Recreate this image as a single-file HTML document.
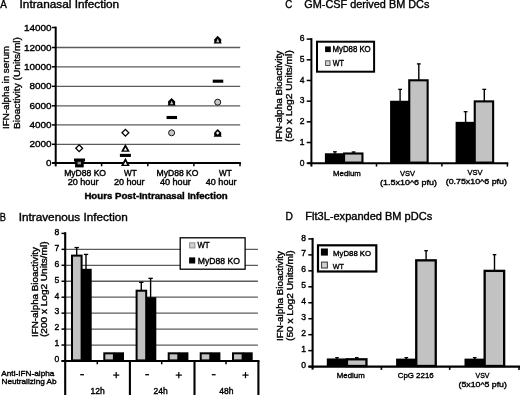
<!DOCTYPE html>
<html><head><meta charset="utf-8"><title>Figure</title>
<style>
html,body{margin:0;padding:0;background:#fff;}
svg{display:block;font-family:"Liberation Sans", sans-serif;filter:grayscale(1);}
</style></head>
<body>
<svg width="520" height="395" viewBox="0 0 520 395">
<rect x="0" y="0" width="520" height="395" fill="#fff"/>
<text x="0.3" y="7.8" font-size="10.2" text-anchor="start" fill="#000" stroke="#000" stroke-width="0.35" textLength="6.6" lengthAdjust="spacingAndGlyphs">A</text>
<text x="19.6" y="7.8" font-size="10.2" text-anchor="start" fill="#000" stroke="#000" stroke-width="0.35" textLength="99.6" lengthAdjust="spacingAndGlyphs">Intranasal Infection</text>
<line x1="55.70" y1="144.30" x2="240.20" y2="144.30" stroke="#5c5c5c" stroke-width="1.3"/>
<line x1="55.70" y1="124.90" x2="240.20" y2="124.90" stroke="#5c5c5c" stroke-width="1.3"/>
<line x1="55.70" y1="105.80" x2="240.20" y2="105.80" stroke="#5c5c5c" stroke-width="1.3"/>
<line x1="55.70" y1="86.30" x2="240.20" y2="86.30" stroke="#5c5c5c" stroke-width="1.3"/>
<line x1="55.70" y1="66.80" x2="240.20" y2="66.80" stroke="#5c5c5c" stroke-width="1.3"/>
<line x1="55.70" y1="47.50" x2="240.20" y2="47.50" stroke="#5c5c5c" stroke-width="1.3"/>
<line x1="55.70" y1="26.60" x2="55.70" y2="166.40" stroke="#000" stroke-width="2"/>
<line x1="52.30" y1="163.10" x2="240.90" y2="163.10" stroke="#000" stroke-width="2"/>
<line x1="52.00" y1="163.10" x2="55.70" y2="163.10" stroke="#000" stroke-width="1.5"/>
<text x="51.5" y="166.1" font-size="9" text-anchor="end" fill="#000" stroke="#000" stroke-width="0.38" textLength="5.5" lengthAdjust="spacingAndGlyphs">0</text>
<line x1="52.00" y1="144.30" x2="55.70" y2="144.30" stroke="#000" stroke-width="1.5"/>
<text x="51.5" y="147.3" font-size="9" text-anchor="end" fill="#000" stroke="#000" stroke-width="0.38" textLength="22.1" lengthAdjust="spacingAndGlyphs">2000</text>
<line x1="52.00" y1="124.90" x2="55.70" y2="124.90" stroke="#000" stroke-width="1.5"/>
<text x="51.5" y="127.9" font-size="9" text-anchor="end" fill="#000" stroke="#000" stroke-width="0.38" textLength="22.1" lengthAdjust="spacingAndGlyphs">4000</text>
<line x1="52.00" y1="105.80" x2="55.70" y2="105.80" stroke="#000" stroke-width="1.5"/>
<text x="51.5" y="108.8" font-size="9" text-anchor="end" fill="#000" stroke="#000" stroke-width="0.38" textLength="22.1" lengthAdjust="spacingAndGlyphs">6000</text>
<line x1="52.00" y1="86.30" x2="55.70" y2="86.30" stroke="#000" stroke-width="1.5"/>
<text x="51.5" y="89.3" font-size="9" text-anchor="end" fill="#000" stroke="#000" stroke-width="0.38" textLength="22.1" lengthAdjust="spacingAndGlyphs">8000</text>
<line x1="52.00" y1="66.80" x2="55.70" y2="66.80" stroke="#000" stroke-width="1.5"/>
<text x="51.5" y="69.8" font-size="9" text-anchor="end" fill="#000" stroke="#000" stroke-width="0.38" textLength="27.6" lengthAdjust="spacingAndGlyphs">10000</text>
<line x1="52.00" y1="47.50" x2="55.70" y2="47.50" stroke="#000" stroke-width="1.5"/>
<text x="51.5" y="50.5" font-size="9" text-anchor="end" fill="#000" stroke="#000" stroke-width="0.38" textLength="27.6" lengthAdjust="spacingAndGlyphs">12000</text>
<line x1="52.00" y1="27.50" x2="55.70" y2="27.50" stroke="#000" stroke-width="1.5"/>
<text x="51.5" y="30.5" font-size="9" text-anchor="end" fill="#000" stroke="#000" stroke-width="0.38" textLength="27.6" lengthAdjust="spacingAndGlyphs">14000</text>
<line x1="101.60" y1="163.10" x2="101.60" y2="166.30" stroke="#000" stroke-width="1.5"/>
<line x1="147.80" y1="163.10" x2="147.80" y2="166.30" stroke="#000" stroke-width="1.5"/>
<line x1="193.90" y1="163.10" x2="193.90" y2="166.30" stroke="#000" stroke-width="1.5"/>
<line x1="240.00" y1="163.10" x2="240.00" y2="166.30" stroke="#000" stroke-width="1.5"/>
<polygon points="75.8,148.2 79.2,144.79999999999998 82.60000000000001,148.2 79.2,151.6" fill="#fff" stroke="#000" stroke-width="1.3"/>
<rect x="74.00" y="158.50" width="11.00" height="3.00" fill="#000"/>
<rect x="75.10" y="159.20" width="8.60" height="8.20" fill="#000"/>
<rect x="77.60" y="161.80" width="3.40" height="2.60" fill="#999"/>
<polygon points="122.0,132.7 125.4,129.29999999999998 128.8,132.7 125.4,136.1" fill="#fff" stroke="#000" stroke-width="1.3"/>
<polygon points="121.0,151.8 125.4,144.0 129.8,151.8" fill="#000"/>
<polygon points="123.70,150.45 125.4,147.44 127.10,150.45" fill="#fff"/>
<rect x="119.90" y="153.85" width="11.00" height="3.10" fill="#000"/>
<polygon points="121.0,166.0 125.4,157.8 129.8,166.0" fill="#000"/>
<polygon points="123.70,164.65 125.4,161.48 127.10,164.65" fill="#fff"/>
<path d="M171.6,97.9 L175.2,101.60000000000001 L175.0,104.3 L175.7,105.5 L167.5,105.5 L168.2,104.3 L168.0,101.60000000000001 Z" fill="#000"/>
<polygon points="170.1,104.3 171.7,100.7 173.2,104.3" fill="#c4c4c4"/>
<rect x="166.55" y="115.95" width="10.50" height="3.10" fill="#000"/>
<circle cx="171.6" cy="132.8" r="3.0" fill="#c8c8c8" stroke="#111" stroke-width="1.0"/>
<path d="M217.7,35.800000000000004 L221.29999999999998,39.5 L221.1,42.2 L221.79999999999998,43.4 L213.6,43.4 L214.29999999999998,42.2 L214.1,39.5 Z" fill="#000"/>
<polygon points="216.2,42.2 217.79999999999998,38.6 219.29999999999998,42.2" fill="#c4c4c4"/>
<rect x="212.75" y="79.65" width="10.50" height="3.10" fill="#000"/>
<circle cx="217.7" cy="102.2" r="3.0" fill="#c8c8c8" stroke="#111" stroke-width="1.0"/>
<path d="M217.7,129.1 L221.29999999999998,132.8 L221.1,135.5 L221.79999999999998,136.70000000000002 L213.6,136.70000000000002 L214.29999999999998,135.5 L214.1,132.8 Z" fill="#000"/>
<polygon points="216.0,133.0 217.7,131.20000000000002 219.39999999999998,133.0 217.7,134.70000000000002" fill="#ececec"/>
<text x="64.2" y="176.0" font-size="8.2" text-anchor="start" fill="#000" stroke="#000" stroke-width="0.38" textLength="41.8" lengthAdjust="spacingAndGlyphs">MyD88 KO</text>
<text x="124.0" y="176.0" font-size="8.2" text-anchor="start" fill="#000" stroke="#000" stroke-width="0.38" textLength="12.7" lengthAdjust="spacingAndGlyphs">WT</text>
<text x="156.6" y="176.0" font-size="8.2" text-anchor="start" fill="#000" stroke="#000" stroke-width="0.38" textLength="41.9" lengthAdjust="spacingAndGlyphs">MyD88 KO</text>
<text x="219.0" y="176.0" font-size="8.2" text-anchor="start" fill="#000" stroke="#000" stroke-width="0.38" textLength="12.7" lengthAdjust="spacingAndGlyphs">WT</text>
<text x="67.7" y="184.6" font-size="8.2" text-anchor="start" fill="#000" stroke="#000" stroke-width="0.38" textLength="30.8" lengthAdjust="spacingAndGlyphs">20 hour</text>
<text x="113.9" y="184.6" font-size="8.2" text-anchor="start" fill="#000" stroke="#000" stroke-width="0.38" textLength="30.7" lengthAdjust="spacingAndGlyphs">20 hour</text>
<text x="159.9" y="184.6" font-size="8.2" text-anchor="start" fill="#000" stroke="#000" stroke-width="0.38" textLength="30.9" lengthAdjust="spacingAndGlyphs">40 hour</text>
<text x="205.8" y="184.6" font-size="8.2" text-anchor="start" fill="#000" stroke="#000" stroke-width="0.38" textLength="30.7" lengthAdjust="spacingAndGlyphs">40 hour</text>
<text x="84.4" y="199.0" font-size="8.5" text-anchor="start" fill="#000" stroke="#000" stroke-width="0.35" font-weight="bold" textLength="143.3" lengthAdjust="spacingAndGlyphs">Hours Post-Intranasal Infection</text>
<text x="9.2" y="129" font-size="9.6" text-anchor="start" fill="#000" stroke="#000" stroke-width="0.35" textLength="83" lengthAdjust="spacingAndGlyphs" transform="rotate(-90 9.2 129)">IFN-alpha in serum</text>
<text x="19.5" y="129" font-size="9.6" text-anchor="start" fill="#000" stroke="#000" stroke-width="0.35" textLength="92" lengthAdjust="spacingAndGlyphs" transform="rotate(-90 19.5 129)">Bioactivity (Units/ml)</text>
<text x="285.2" y="7.7" font-size="10.2" text-anchor="start" fill="#000" stroke="#000" stroke-width="0.35" textLength="7.0" lengthAdjust="spacingAndGlyphs">C</text>
<text x="304.3" y="7.7" font-size="10.2" text-anchor="start" fill="#000" stroke="#000" stroke-width="0.35" textLength="125.1" lengthAdjust="spacingAndGlyphs">GM-CSF derived BM DCs</text>
<line x1="311.40" y1="38.10" x2="311.40" y2="166.60" stroke="#000" stroke-width="2"/>
<line x1="307.50" y1="163.20" x2="508.30" y2="163.20" stroke="#000" stroke-width="2.1"/>
<line x1="306.70" y1="163.20" x2="311.40" y2="163.20" stroke="#000" stroke-width="1.5"/>
<text x="304.5" y="165.5" font-size="8.5" text-anchor="end" fill="#000" stroke="#000" stroke-width="0.38">0</text>
<line x1="306.70" y1="142.52" x2="311.40" y2="142.52" stroke="#000" stroke-width="1.5"/>
<text x="304.5" y="144.82" font-size="8.5" text-anchor="end" fill="#000" stroke="#000" stroke-width="0.38">1</text>
<line x1="306.70" y1="121.84" x2="311.40" y2="121.84" stroke="#000" stroke-width="1.5"/>
<text x="304.5" y="124.13999999999999" font-size="8.5" text-anchor="end" fill="#000" stroke="#000" stroke-width="0.38">2</text>
<line x1="306.70" y1="101.16" x2="311.40" y2="101.16" stroke="#000" stroke-width="1.5"/>
<text x="304.5" y="103.46" font-size="8.5" text-anchor="end" fill="#000" stroke="#000" stroke-width="0.38">3</text>
<line x1="306.70" y1="80.48" x2="311.40" y2="80.48" stroke="#000" stroke-width="1.5"/>
<text x="304.5" y="82.77999999999999" font-size="8.5" text-anchor="end" fill="#000" stroke="#000" stroke-width="0.38">4</text>
<line x1="306.70" y1="59.80" x2="311.40" y2="59.80" stroke="#000" stroke-width="1.5"/>
<text x="304.5" y="62.09999999999998" font-size="8.5" text-anchor="end" fill="#000" stroke="#000" stroke-width="0.38">5</text>
<line x1="306.70" y1="39.12" x2="311.40" y2="39.12" stroke="#000" stroke-width="1.5"/>
<text x="304.5" y="41.41999999999999" font-size="8.5" text-anchor="end" fill="#000" stroke="#000" stroke-width="0.38">6</text>
<line x1="376.50" y1="163.20" x2="376.50" y2="166.60" stroke="#000" stroke-width="1.5"/>
<line x1="441.90" y1="163.20" x2="441.90" y2="166.60" stroke="#000" stroke-width="1.5"/>
<line x1="507.40" y1="163.20" x2="507.40" y2="166.60" stroke="#000" stroke-width="1.5"/>
<line x1="334.90" y1="151.51" x2="334.90" y2="163.20" stroke="#000" stroke-width="1.4"/>
<line x1="333.00" y1="151.81" x2="336.80" y2="151.81" stroke="#000" stroke-width="1.3"/>
<line x1="353.60" y1="151.71" x2="353.60" y2="163.20" stroke="#000" stroke-width="1.4"/>
<line x1="351.70" y1="152.01" x2="355.50" y2="152.01" stroke="#000" stroke-width="1.3"/>
<rect x="324.90" y="153.27" width="19.40" height="9.93" fill="#000"/>
<rect x="344.05" y="153.50" width="18.40" height="9.10" fill="#c2c2c2" stroke="#000" stroke-width="2.1"/>
<line x1="400.10" y1="89.05" x2="400.10" y2="163.20" stroke="#000" stroke-width="1.4"/>
<line x1="398.20" y1="89.35" x2="402.00" y2="89.35" stroke="#000" stroke-width="1.3"/>
<line x1="418.80" y1="63.62" x2="418.80" y2="163.20" stroke="#000" stroke-width="1.4"/>
<line x1="416.90" y1="63.92" x2="420.70" y2="63.92" stroke="#000" stroke-width="1.3"/>
<rect x="390.10" y="100.75" width="19.40" height="62.45" fill="#000"/>
<rect x="409.25" y="80.29" width="18.40" height="82.31" fill="#c2c2c2" stroke="#000" stroke-width="2.1"/>
<line x1="465.60" y1="111.39" x2="465.60" y2="163.20" stroke="#000" stroke-width="1.4"/>
<line x1="463.70" y1="111.69" x2="467.50" y2="111.69" stroke="#000" stroke-width="1.3"/>
<line x1="484.30" y1="89.05" x2="484.30" y2="163.20" stroke="#000" stroke-width="1.4"/>
<line x1="482.40" y1="89.35" x2="486.20" y2="89.35" stroke="#000" stroke-width="1.3"/>
<rect x="455.60" y="121.84" width="19.40" height="41.36" fill="#000"/>
<rect x="474.75" y="101.38" width="18.40" height="61.22" fill="#c2c2c2" stroke="#000" stroke-width="2.1"/>
<text x="333.1" y="175.8" font-size="8.1" text-anchor="start" fill="#000" stroke="#000" stroke-width="0.38" textLength="27.7" lengthAdjust="spacingAndGlyphs">Medium</text>
<text x="399.9" y="175.6" font-size="8.1" text-anchor="start" fill="#000" stroke="#000" stroke-width="0.38" textLength="15" lengthAdjust="spacingAndGlyphs">VSV</text>
<text x="380.1" y="184.8" font-size="8.1" text-anchor="start" fill="#000" stroke="#000" stroke-width="0.38" textLength="56.9" lengthAdjust="spacingAndGlyphs">(1.5x10^6 pfu)</text>
<text x="467.5" y="174.8" font-size="8.1" text-anchor="start" fill="#000" stroke="#000" stroke-width="0.38" textLength="15" lengthAdjust="spacingAndGlyphs">VSV</text>
<text x="445.7" y="184.1" font-size="8.1" text-anchor="start" fill="#000" stroke="#000" stroke-width="0.38" textLength="61.2" lengthAdjust="spacingAndGlyphs">(0.75x10^6 pfu)</text>
<rect x="317.00" y="41.70" width="57.10" height="30.00" fill="#fff" stroke="#000" stroke-width="2"/>
<rect x="325.10" y="46.40" width="5.70" height="5.70" fill="#000"/>
<text x="332.5" y="52.1" font-size="8.2" text-anchor="start" fill="#000" stroke="#000" stroke-width="0.38" textLength="38.2" lengthAdjust="spacingAndGlyphs">MyD88 KO</text>
<rect x="325.60" y="60.80" width="4.40" height="4.70" fill="#d4d4d4" stroke="#555" stroke-width="1.0"/>
<text x="332.7" y="66.0" font-size="8.2" text-anchor="start" fill="#000" stroke="#000" stroke-width="0.38" textLength="11.2" lengthAdjust="spacingAndGlyphs">WT</text>
<text x="282.0" y="142" font-size="8.5" text-anchor="start" fill="#000" stroke="#000" stroke-width="0.35" textLength="91.3" lengthAdjust="spacingAndGlyphs" transform="rotate(-90 282.0 142)">IFN-alpha Bioactivity</text>
<text x="292.0" y="142" font-size="8.5" text-anchor="start" fill="#000" stroke="#000" stroke-width="0.35" textLength="91.8" lengthAdjust="spacingAndGlyphs" transform="rotate(-90 292.0 142)">(50 x Log2 Units/ml)</text>
<text x="-0.3" y="220.6" font-size="10.2" text-anchor="start" fill="#000" stroke="#000" stroke-width="0.35" textLength="6.2" lengthAdjust="spacingAndGlyphs">B</text>
<text x="18.7" y="220.6" font-size="10.2" text-anchor="start" fill="#000" stroke="#000" stroke-width="0.35" textLength="109.2" lengthAdjust="spacingAndGlyphs">Intravenous Infection</text>
<line x1="65.20" y1="345.05" x2="257.90" y2="345.05" stroke="#5c5c5c" stroke-width="1.3"/>
<line x1="65.20" y1="329.10" x2="257.90" y2="329.10" stroke="#5c5c5c" stroke-width="1.3"/>
<line x1="65.20" y1="313.15" x2="257.90" y2="313.15" stroke="#5c5c5c" stroke-width="1.3"/>
<line x1="65.20" y1="297.20" x2="257.90" y2="297.20" stroke="#5c5c5c" stroke-width="1.3"/>
<line x1="65.20" y1="281.25" x2="257.90" y2="281.25" stroke="#5c5c5c" stroke-width="1.3"/>
<line x1="65.20" y1="265.30" x2="257.90" y2="265.30" stroke="#5c5c5c" stroke-width="1.3"/>
<line x1="65.20" y1="249.35" x2="257.90" y2="249.35" stroke="#5c5c5c" stroke-width="1.3"/>
<line x1="65.20" y1="232.20" x2="65.20" y2="395.00" stroke="#000" stroke-width="2.1"/>
<line x1="61.50" y1="361.00" x2="259.45" y2="361.00" stroke="#000" stroke-width="2.1"/>
<line x1="61.50" y1="361.00" x2="65.20" y2="361.00" stroke="#000" stroke-width="1.5"/>
<text x="59.4" y="362.3" font-size="8.6" text-anchor="end" fill="#000" stroke="#000" stroke-width="0.38">0</text>
<line x1="61.50" y1="345.05" x2="65.20" y2="345.05" stroke="#000" stroke-width="1.5"/>
<text x="59.4" y="346.35" font-size="8.6" text-anchor="end" fill="#000" stroke="#000" stroke-width="0.38">1</text>
<line x1="61.50" y1="329.10" x2="65.20" y2="329.10" stroke="#000" stroke-width="1.5"/>
<text x="59.4" y="330.40000000000003" font-size="8.6" text-anchor="end" fill="#000" stroke="#000" stroke-width="0.38">2</text>
<line x1="61.50" y1="313.15" x2="65.20" y2="313.15" stroke="#000" stroke-width="1.5"/>
<text x="59.4" y="314.45" font-size="8.6" text-anchor="end" fill="#000" stroke="#000" stroke-width="0.38">3</text>
<line x1="61.50" y1="297.20" x2="65.20" y2="297.20" stroke="#000" stroke-width="1.5"/>
<text x="59.4" y="298.5" font-size="8.6" text-anchor="end" fill="#000" stroke="#000" stroke-width="0.38">4</text>
<line x1="61.50" y1="281.25" x2="65.20" y2="281.25" stroke="#000" stroke-width="1.5"/>
<text x="59.4" y="282.55" font-size="8.6" text-anchor="end" fill="#000" stroke="#000" stroke-width="0.38">5</text>
<line x1="61.50" y1="265.30" x2="65.20" y2="265.30" stroke="#000" stroke-width="1.5"/>
<text x="59.4" y="266.6" font-size="8.6" text-anchor="end" fill="#000" stroke="#000" stroke-width="0.38">6</text>
<line x1="61.50" y1="249.35" x2="65.20" y2="249.35" stroke="#000" stroke-width="1.5"/>
<text x="59.4" y="250.65000000000003" font-size="8.6" text-anchor="end" fill="#000" stroke="#000" stroke-width="0.38">7</text>
<line x1="61.50" y1="233.40" x2="65.20" y2="233.40" stroke="#000" stroke-width="1.5"/>
<text x="59.4" y="234.70000000000002" font-size="8.6" text-anchor="end" fill="#000" stroke="#000" stroke-width="0.38">8</text>
<line x1="86.00" y1="254.12" x2="86.00" y2="361.00" stroke="#000" stroke-width="1.4"/>
<line x1="83.80" y1="254.42" x2="88.20" y2="254.42" stroke="#000" stroke-width="1.3"/>
<line x1="76.70" y1="247.26" x2="76.70" y2="361.00" stroke="#000" stroke-width="1.4"/>
<line x1="74.50" y1="247.56" x2="78.90" y2="247.56" stroke="#000" stroke-width="1.3"/>
<rect x="81.90" y="268.81" width="9.80" height="92.19" fill="#000"/>
<rect x="72.00" y="255.61" width="9.60" height="104.79" fill="#c2c2c2" stroke="#000" stroke-width="2.0"/>
<rect x="114.20" y="352.31" width="9.80" height="8.69" fill="#000"/>
<rect x="104.30" y="353.31" width="9.60" height="7.09" fill="#c2c2c2" stroke="#000" stroke-width="2.0"/>
<line x1="150.60" y1="278.04" x2="150.60" y2="361.00" stroke="#000" stroke-width="1.4"/>
<line x1="148.40" y1="278.34" x2="152.80" y2="278.34" stroke="#000" stroke-width="1.3"/>
<line x1="141.30" y1="282.03" x2="141.30" y2="361.00" stroke="#000" stroke-width="1.4"/>
<line x1="139.10" y1="282.33" x2="143.50" y2="282.33" stroke="#000" stroke-width="1.3"/>
<rect x="146.50" y="297.20" width="9.80" height="63.80" fill="#000"/>
<rect x="136.60" y="290.70" width="9.60" height="69.70" fill="#c2c2c2" stroke="#000" stroke-width="2.0"/>
<rect x="178.60" y="352.31" width="9.80" height="8.69" fill="#000"/>
<rect x="168.70" y="353.31" width="9.60" height="7.09" fill="#c2c2c2" stroke="#000" stroke-width="2.0"/>
<rect x="210.60" y="352.31" width="9.80" height="8.69" fill="#000"/>
<rect x="200.70" y="353.31" width="9.60" height="7.09" fill="#c2c2c2" stroke="#000" stroke-width="2.0"/>
<rect x="242.90" y="352.31" width="9.80" height="8.69" fill="#000"/>
<rect x="233.00" y="353.31" width="9.60" height="7.09" fill="#c2c2c2" stroke="#000" stroke-width="2.0"/>
<line x1="129.90" y1="361.00" x2="129.90" y2="395.00" stroke="#000" stroke-width="2.1"/>
<line x1="194.50" y1="361.00" x2="194.50" y2="395.00" stroke="#000" stroke-width="2.1"/>
<line x1="258.40" y1="361.00" x2="258.40" y2="395.00" stroke="#000" stroke-width="2.1"/>
<line x1="97.30" y1="361.00" x2="97.30" y2="364.30" stroke="#000" stroke-width="1.5"/>
<line x1="161.70" y1="361.00" x2="161.70" y2="364.30" stroke="#000" stroke-width="1.5"/>
<line x1="226.00" y1="361.00" x2="226.00" y2="364.30" stroke="#000" stroke-width="1.5"/>
<line x1="80.20" y1="374.70" x2="84.00" y2="374.70" stroke="#000" stroke-width="1.3"/>
<line x1="145.20" y1="374.70" x2="149.00" y2="374.70" stroke="#000" stroke-width="1.3"/>
<line x1="211.80" y1="374.70" x2="215.60" y2="374.70" stroke="#000" stroke-width="1.3"/>
<line x1="113.10" y1="375.10" x2="119.30" y2="375.10" stroke="#000" stroke-width="1.2"/>
<line x1="116.20" y1="372.10" x2="116.20" y2="378.20" stroke="#000" stroke-width="1.2"/>
<line x1="175.70" y1="375.10" x2="181.90" y2="375.10" stroke="#000" stroke-width="1.2"/>
<line x1="178.80" y1="372.10" x2="178.80" y2="378.20" stroke="#000" stroke-width="1.2"/>
<line x1="242.40" y1="375.10" x2="248.60" y2="375.10" stroke="#000" stroke-width="1.2"/>
<line x1="245.50" y1="372.10" x2="245.50" y2="378.20" stroke="#000" stroke-width="1.2"/>
<text x="90.60000000000001" y="393.6" font-size="8.4" text-anchor="start" fill="#000" stroke="#000" stroke-width="0.38" textLength="14.2" lengthAdjust="spacingAndGlyphs">12h</text>
<text x="153.5" y="393.6" font-size="8.4" text-anchor="start" fill="#000" stroke="#000" stroke-width="0.38" textLength="14.2" lengthAdjust="spacingAndGlyphs">24h</text>
<text x="219.20000000000002" y="393.6" font-size="8.4" text-anchor="start" fill="#000" stroke="#000" stroke-width="0.38" textLength="14.2" lengthAdjust="spacingAndGlyphs">48h</text>
<text x="1.3" y="375.8" font-size="8" text-anchor="start" fill="#000" stroke="#000" stroke-width="0.38" textLength="53.1" lengthAdjust="spacingAndGlyphs">Anti-IFN-alpha</text>
<text x="1.5" y="384.3" font-size="8" text-anchor="start" fill="#000" stroke="#000" stroke-width="0.38" textLength="55.1" lengthAdjust="spacingAndGlyphs">Neutralizing Ab</text>
<rect x="180.20" y="237.80" width="64.90" height="31.40" fill="#fff" stroke="#000" stroke-width="1.3"/>
<rect x="189.60" y="242.80" width="5.30" height="5.10" fill="#d0d0d0" stroke="#909090" stroke-width="1.0"/>
<text x="197.4" y="248.3" font-size="8.5" text-anchor="start" fill="#000" stroke="#000" stroke-width="0.38" textLength="12.2" lengthAdjust="spacingAndGlyphs">WT</text>
<rect x="189.10" y="257.40" width="6.10" height="6.10" fill="#000"/>
<text x="197.8" y="263.5" font-size="8.5" text-anchor="start" fill="#000" stroke="#000" stroke-width="0.38" textLength="42.1" lengthAdjust="spacingAndGlyphs">MyD88 KO</text>
<text x="37.6" y="337" font-size="8.5" text-anchor="start" fill="#000" stroke="#000" stroke-width="0.35" textLength="90" lengthAdjust="spacingAndGlyphs" transform="rotate(-90 37.6 337)">IFN-alpha Bioactivity</text>
<text x="46.9" y="337" font-size="8.5" text-anchor="start" fill="#000" stroke="#000" stroke-width="0.35" textLength="95.5" lengthAdjust="spacingAndGlyphs" transform="rotate(-90 46.9 337)">(200 x Log2 Units/ml)</text>
<text x="285.5" y="220.4" font-size="10.2" text-anchor="start" fill="#000" stroke="#000" stroke-width="0.35" textLength="7.4" lengthAdjust="spacingAndGlyphs">D</text>
<text x="305.3" y="220.4" font-size="10.2" text-anchor="start" fill="#000" stroke="#000" stroke-width="0.35" textLength="126.9" lengthAdjust="spacingAndGlyphs">Flt3L-expanded BM pDCs</text>
<line x1="312.60" y1="237.90" x2="312.60" y2="369.60" stroke="#000" stroke-width="2.1"/>
<line x1="308.50" y1="366.60" x2="520.00" y2="366.60" stroke="#000" stroke-width="2.1"/>
<line x1="308.30" y1="366.60" x2="312.60" y2="366.60" stroke="#000" stroke-width="1.5"/>
<text x="306.1" y="368.20000000000005" font-size="8.5" text-anchor="end" fill="#000" stroke="#000" stroke-width="0.38">0</text>
<line x1="308.30" y1="350.64" x2="312.60" y2="350.64" stroke="#000" stroke-width="1.5"/>
<text x="306.1" y="352.24000000000007" font-size="8.5" text-anchor="end" fill="#000" stroke="#000" stroke-width="0.38">1</text>
<line x1="308.30" y1="334.68" x2="312.60" y2="334.68" stroke="#000" stroke-width="1.5"/>
<text x="306.1" y="336.28000000000003" font-size="8.5" text-anchor="end" fill="#000" stroke="#000" stroke-width="0.38">2</text>
<line x1="308.30" y1="318.72" x2="312.60" y2="318.72" stroke="#000" stroke-width="1.5"/>
<text x="306.1" y="320.32000000000005" font-size="8.5" text-anchor="end" fill="#000" stroke="#000" stroke-width="0.38">3</text>
<line x1="308.30" y1="302.76" x2="312.60" y2="302.76" stroke="#000" stroke-width="1.5"/>
<text x="306.1" y="304.36" font-size="8.5" text-anchor="end" fill="#000" stroke="#000" stroke-width="0.38">4</text>
<line x1="308.30" y1="286.80" x2="312.60" y2="286.80" stroke="#000" stroke-width="1.5"/>
<text x="306.1" y="288.40000000000003" font-size="8.5" text-anchor="end" fill="#000" stroke="#000" stroke-width="0.38">5</text>
<line x1="308.30" y1="270.84" x2="312.60" y2="270.84" stroke="#000" stroke-width="1.5"/>
<text x="306.1" y="272.44000000000005" font-size="8.5" text-anchor="end" fill="#000" stroke="#000" stroke-width="0.38">6</text>
<line x1="308.30" y1="254.88" x2="312.60" y2="254.88" stroke="#000" stroke-width="1.5"/>
<text x="306.1" y="256.48" font-size="8.5" text-anchor="end" fill="#000" stroke="#000" stroke-width="0.38">7</text>
<line x1="308.30" y1="238.92" x2="312.60" y2="238.92" stroke="#000" stroke-width="1.5"/>
<text x="306.1" y="240.52" font-size="8.5" text-anchor="end" fill="#000" stroke="#000" stroke-width="0.38">8</text>
<line x1="381.40" y1="366.60" x2="381.40" y2="369.90" stroke="#000" stroke-width="1.6"/>
<line x1="449.70" y1="366.60" x2="449.70" y2="369.90" stroke="#000" stroke-width="1.6"/>
<line x1="519.00" y1="366.60" x2="519.00" y2="369.90" stroke="#000" stroke-width="1.6"/>
<line x1="337.00" y1="357.32" x2="337.00" y2="366.60" stroke="#000" stroke-width="1.4"/>
<line x1="335.20" y1="357.62" x2="338.80" y2="357.62" stroke="#000" stroke-width="1.3"/>
<line x1="356.80" y1="357.32" x2="356.80" y2="366.60" stroke="#000" stroke-width="1.4"/>
<line x1="355.00" y1="357.62" x2="358.60" y2="357.62" stroke="#000" stroke-width="1.3"/>
<rect x="326.80" y="358.46" width="20.60" height="8.14" fill="#000"/>
<rect x="346.95" y="359.29" width="19.50" height="6.71" fill="#c2c2c2" stroke="#000" stroke-width="2.3"/>
<line x1="406.30" y1="357.32" x2="406.30" y2="366.60" stroke="#000" stroke-width="1.4"/>
<line x1="404.50" y1="357.62" x2="408.10" y2="357.62" stroke="#000" stroke-width="1.3"/>
<line x1="426.10" y1="250.39" x2="426.10" y2="366.60" stroke="#000" stroke-width="1.4"/>
<line x1="424.30" y1="250.69" x2="427.90" y2="250.69" stroke="#000" stroke-width="1.3"/>
<rect x="396.10" y="358.62" width="20.60" height="7.98" fill="#000"/>
<rect x="416.25" y="260.34" width="19.50" height="105.66" fill="#c2c2c2" stroke="#000" stroke-width="2.3"/>
<line x1="474.70" y1="357.32" x2="474.70" y2="366.60" stroke="#000" stroke-width="1.4"/>
<line x1="472.90" y1="357.62" x2="476.50" y2="357.62" stroke="#000" stroke-width="1.3"/>
<line x1="494.50" y1="254.38" x2="494.50" y2="366.60" stroke="#000" stroke-width="1.4"/>
<line x1="492.70" y1="254.68" x2="496.30" y2="254.68" stroke="#000" stroke-width="1.3"/>
<rect x="464.50" y="358.62" width="20.60" height="7.98" fill="#000"/>
<rect x="484.65" y="270.87" width="19.50" height="95.13" fill="#c2c2c2" stroke="#000" stroke-width="2.3"/>
<text x="336.8" y="378.4" font-size="8.1" text-anchor="start" fill="#000" stroke="#000" stroke-width="0.38" textLength="27.9" lengthAdjust="spacingAndGlyphs">Medium</text>
<text x="397.7" y="378.4" font-size="8.1" text-anchor="start" fill="#000" stroke="#000" stroke-width="0.38" textLength="36" lengthAdjust="spacingAndGlyphs">CpG 2216</text>
<text x="475.5" y="377.7" font-size="8.1" text-anchor="start" fill="#000" stroke="#000" stroke-width="0.38" textLength="13.9" lengthAdjust="spacingAndGlyphs">VSV</text>
<text x="458.5" y="387.1" font-size="8.1" text-anchor="start" fill="#000" stroke="#000" stroke-width="0.38" textLength="48.4" lengthAdjust="spacingAndGlyphs">(5x10^5 pfu)</text>
<rect x="318.00" y="245.30" width="58.30" height="26.20" fill="#fff" stroke="#000" stroke-width="2.2"/>
<rect x="320.90" y="248.50" width="7.00" height="7.10" fill="#000"/>
<text x="333.1" y="255.6" font-size="8.0" text-anchor="start" fill="#000" stroke="#000" stroke-width="0.38" textLength="38" lengthAdjust="spacingAndGlyphs">MyD88 KO</text>
<rect x="321.50" y="262.10" width="5.90" height="5.90" fill="#d0d0d0" stroke="#444" stroke-width="1.1"/>
<text x="332.7" y="268.8" font-size="8.0" text-anchor="start" fill="#000" stroke="#000" stroke-width="0.38" textLength="11.2" lengthAdjust="spacingAndGlyphs">WT</text>
<text x="283.4" y="341" font-size="8.5" text-anchor="start" fill="#000" stroke="#000" stroke-width="0.35" textLength="90" lengthAdjust="spacingAndGlyphs" transform="rotate(-90 283.4 341)">IFN-alpha Bioactivity</text>
<text x="293.0" y="341" font-size="8.5" text-anchor="start" fill="#000" stroke="#000" stroke-width="0.35" textLength="90.7" lengthAdjust="spacingAndGlyphs" transform="rotate(-90 293.0 341)">(50 x Log2 Units/ml)</text>
</svg>
</body></html>
